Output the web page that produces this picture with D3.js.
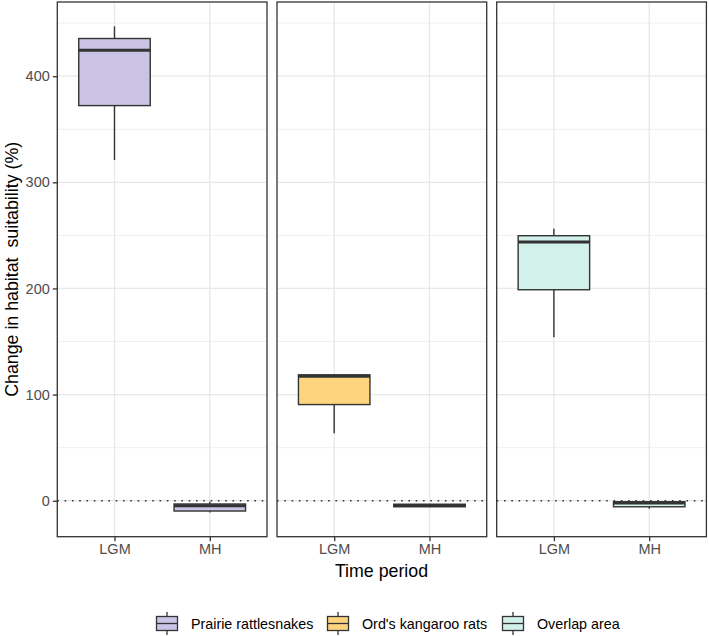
<!DOCTYPE html>
<html>
<head>
<meta charset="utf-8">
<script src="https://cdn.jsdelivr.net/npm/d3@7"></script>
<style>
  body { margin: 0; background: #fff; }
  text { font-family: "Liberation Sans", Arial, sans-serif; }
</style>
</head>
<body>
<div id="chart"></div>
<script>
// data
var periods = ["LGM", "MH"];
var groups = ["Prairie rattlesnakes", "Ord's kangaroo rats", "Overlap area"];
var fills = ["#cac3e4", "#ffd47f", "#d2f1ea"];
// one row per group, one value per period
var lowerW = [[321, -11], [63.5, -6], [154, -7.5]];
var q1 = [[372.3, -9.7], [90.6, -5.7], [198.8, -5.7]];
var medians = [[424.5, -4.8], [117.3, -4.5], [243.7, -2.2]];
var q3 = [[435.5, -3.1], [118.6, -3.3], [249.7, -1]];
var upperW = [[447, -1], [119.5, -3], [256.3, -0.5]];
var yTicks = [0, 100, 200, 300, 400];
var yMinor = [50, 150, 250, 350, 450];

var W = 709, H = 636;
var panelTop = 2, panelBottom = 536.7,
    panelLeft = 57.3, panelW = 209.7, gap = 10;

var svg = d3.select("#chart")
    .append("svg")
      .attr("width", W)
      .attr("height", H);

var lo = d3.min(lowerW, function(r) { return d3.min(r); }),
    hi = d3.max(upperW, function(r) { return d3.max(r); });
var pad = (hi - lo) * 0.05;

var y = d3.scaleLinear()
    .domain([lo - pad, hi + pad])
    .range([panelBottom, panelTop]);

var x = d3.scalePoint()
    .domain(periods)
    .range([0, panelW])
    .padding(0.6);
var boxW = x.step() * 0.75;

groups.forEach(function(g, gi) {
    var left = panelLeft + gi * (panelW + gap);
    var p = svg.append("g")
        .attr("transform", "translate(" + left + ",0)");

    // grid
    p.selectAll(".minor")
        .data(yMinor.filter(function(v) { return y(v) > panelTop; }))
        .enter().append("line")
        .attr("x1", 0).attr("x2", panelW)
        .attr("y1", function(d) { return y(d); })
        .attr("y2", function(d) { return y(d); })
        .attr("stroke", "#f0f0f0").attr("stroke-width", 1);
    p.selectAll(".major")
        .data(yTicks)
        .enter().append("line")
        .attr("x1", 0).attr("x2", panelW)
        .attr("y1", function(d) { return y(d); })
        .attr("y2", function(d) { return y(d); })
        .attr("stroke", "#e8e8e8").attr("stroke-width", 1.3);
    p.selectAll(".vgrid")
        .data(periods)
        .enter().append("line")
        .attr("x1", function(d) { return x(d); })
        .attr("x2", function(d) { return x(d); })
        .attr("y1", panelTop).attr("y2", panelBottom)
        .attr("stroke", "#e8e8e8").attr("stroke-width", 1.3);

    // zero line
    p.append("line")
        .attr("x1", 0).attr("x2", panelW)
        .attr("y1", y(0)).attr("y2", y(0))
        .attr("stroke", "#333").attr("stroke-width", 1.6)
        .attr("stroke-dasharray", "1.6,5.7");

    periods.forEach(function(per, pi) {
        var cx = x(per);
        // whiskers
        p.append("line")
            .attr("x1", cx).attr("x2", cx)
            .attr("y1", y(upperW[gi][pi])).attr("y2", y(q3[gi][pi]))
            .attr("stroke", "#333").attr("stroke-width", 1.4);
        p.append("line")
            .attr("x1", cx).attr("x2", cx)
            .attr("y1", y(q1[gi][pi])).attr("y2", y(lowerW[gi][pi]))
            .attr("stroke", "#333").attr("stroke-width", 1.4);
        p.append("rect")
            .attr("x", cx - boxW / 2)
            .attr("y", y(q3[gi][pi]))
            .attr("width", boxW)
            .attr("height", y(q1[gi][pi]) - y(q3[gi][pi]))
            .attr("fill", fills[gi])
            .attr("stroke", "#333").attr("stroke-width", 1.4);
        p.append("line")
            .attr("x1", cx - boxW / 2).attr("x2", cx + boxW / 2)
            .attr("y1", y(medians[gi][pi])).attr("y2", y(medians[gi][pi]))
            .attr("stroke", "#333").attr("stroke-width", 3);
    });

    // border
    p.append("rect")
        .attr("x", 0).attr("y", panelTop)
        .attr("width", panelW).attr("height", panelBottom - panelTop)
        .attr("fill", "none")
        .attr("stroke", "#333").attr("stroke-width", 1.3);

    // x axis
    var xa = p.append("g")
        .attr("transform", "translate(0," + panelBottom + ")")
        .call(d3.axisBottom(x).tickSize(4.5).tickPadding(3));
    xa.select(".domain").remove();
    xa.selectAll("line").attr("stroke", "#333").attr("stroke-width", 1.3);
    xa.selectAll("text")
        .attr("fill", "#4d4d4d")
        .style("font-size", "14.5px");

    if (gi === 0) {
        var ya = p.append("g")
            .call(d3.axisLeft(y).tickValues(yTicks).tickSize(4.5).tickPadding(3));
        ya.select(".domain").remove();
        ya.selectAll("line").attr("stroke", "#333").attr("stroke-width", 1.3);
        ya.selectAll("text")
            .attr("fill", "#4d4d4d")
            .style("font-size", "14.5px");
    }
});

// axis titles
svg.append("text")
    .attr("x", 381.5)
    .attr("y", 577)
    .attr("text-anchor", "middle")
    .style("font-size", "17.8px")
    .text("Time period");

svg.append("text")
    .attr("transform", "translate(18," + (panelTop + panelBottom) / 2 + ") rotate(-90)")
    .attr("text-anchor", "middle")
    .style("font-size", "17.8px")
    .style("white-space", "pre")
    .text("Change in habitat  suitability (%)");

// legend
var legX = [156, 327, 502];
var leg = svg.selectAll(".leg")
    .data(groups)
    .enter().append("g")
    .attr("transform", function(d, i) { return "translate(" + legX[i] + ",612)"; });

leg.append("line")
    .attr("x1", 11).attr("x2", 11)
    .attr("y1", 0).attr("y2", 23)
    .attr("stroke", "#333").attr("stroke-width", 1.3);
leg.append("rect")
    .attr("x", 0.5).attr("y", 4.5)
    .attr("width", 21).attr("height", 14)
    .attr("fill", function(d, i) { return fills[i]; })
    .attr("stroke", "#333").attr("stroke-width", 1.3);
leg.append("line")
    .attr("x1", 0.5).attr("x2", 21.5)
    .attr("y1", 11.5).attr("y2", 11.5)
    .attr("stroke", "#333").attr("stroke-width", 1.3);
leg.append("text")
    .attr("x", 35)
    .attr("y", 16.5)
    .style("font-size", "14.3px")
    .text(function(d) { return d; });
</script>
</body>
</html>
